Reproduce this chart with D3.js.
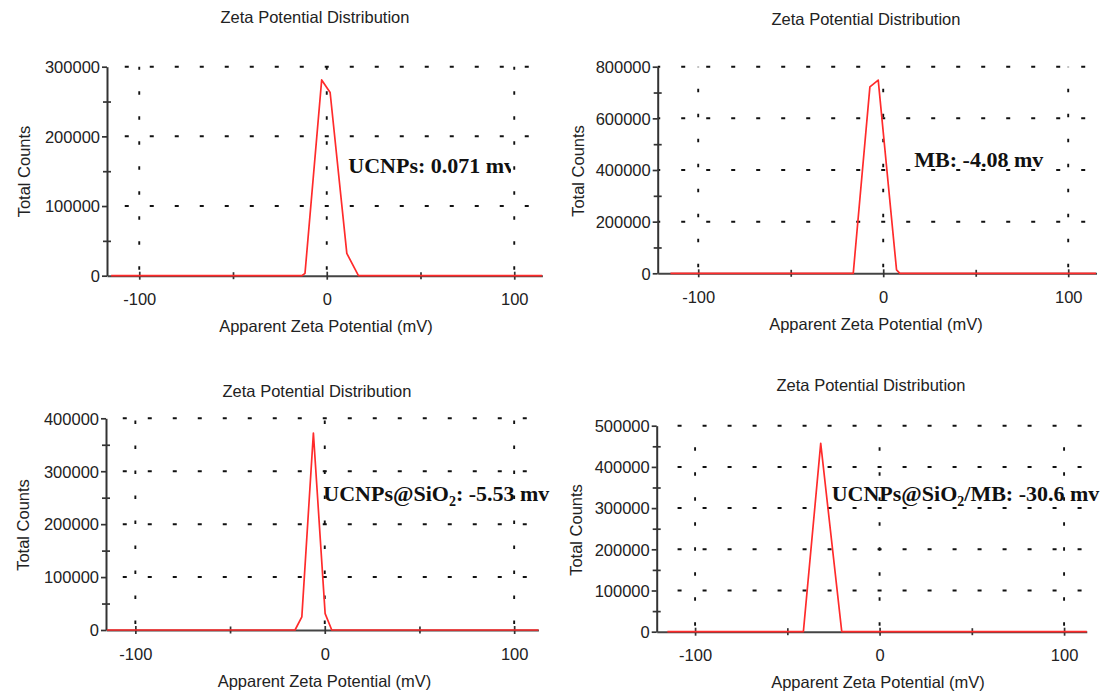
<!DOCTYPE html>
<html>
<head>
<meta charset="utf-8">
<script src="https://cdn.jsdelivr.net/npm/d3@7"></script>
<style>
  html, body { margin: 0; padding: 0; background: #fff; }
  svg { display: block; }
  text { font-family: "Liberation Sans", Arial, sans-serif; fill: #222; }
  .note { font-family: "Liberation Serif", "Times New Roman", serif; font-weight: bold; fill: #111; }
</style>
</head>
<body>
<svg id="chart" width="1105" height="695"></svg>
<script>
// Zeta potential distributions: apparent zeta potential (mV) vs total counts
const ucnpsMv      = [-115, -13.3, -11.6, -2.7, 1.8, 10.7, 16.9, 115];
const ucnpsCounts  = [0, 0, 3400, 281000, 263000, 32000, 0, 0];
const mbMv         = [-115, -16.2, -7.2, -2.7, 7.2, 9.0, 115];
const mbCounts     = [0, 0, 722000, 748000, 13000, 0, 0];
const silicaMv     = [-115, -15.7, -12.1, -6.0, 0.2, 3.7, 115];
const silicaCounts = [0, 0, 25000, 372000, 31000, 0, 0];
const loadedMv     = [-115, -41.3, -31.9, -20.5, 115];
const loadedCounts = [0, 0, 457000, 0, 0];

const sampleNames    = ["UCNPs", "MB", "UCNPs@SiO2", "UCNPs@SiO2/MB"];
const zetaValues     = ["0.071", "-4.08", "-5.53", "-30.6"];
const countMax       = [300000, 800000, 400000, 500000];
const countLabelStep = [100000, 200000, 100000, 100000];
const countMinorStep = [50000, 100000, 50000, 50000];
const potentialTicks      = [-100, 0, 100];
const potentialMinorTicks = [-50, 50];

const chartTitle = "Zeta Potential Distribution";
const yAxisTitle = "Total Counts";
const xAxisTitle = "Apparent Zeta Potential (mV)";

const seriesMv     = [ucnpsMv, mbMv, silicaMv, loadedMv];
const seriesCounts = [ucnpsCounts, mbCounts, silicaCounts, loadedCounts];

// Panel placement on the page
const layout = [
  { left: 107,   xMin: -117.2, xMax: 115,   base: 275.7, top: 66.7,  titleX: 315, titleY: 23,  yLabX: 29.5,  yLabY: 171.5, xLabX: 326,   noteX: 348.3, noteY: 173, noteClip: 511 },
  { left: 657.7, xMin: -121.9, xMax: 115.3, base: 273.3, top: 66.7,  titleX: 866, titleY: 24.5, yLabX: 583.5, yLabY: 171, xLabX: 876,   noteX: 914.3, noteY: 167 },
  { left: 106,   xMin: -115.5, xMax: 112.8, base: 630,   top: 418.3, titleX: 317, titleY: 397, yLabX: 28.5,  yLabY: 525,   xLabX: 324.5, noteX: 323.3, noteY: 501 },
  { left: 656.7, xMin: -120.8, xMax: 112.3, base: 631.7, top: 425.7, titleX: 871, titleY: 391, yLabX: 582,   yLabY: 530,   xLabX: 878,   noteX: 831.7, noteY: 501 }
];
const pxPerMv = [1.875, 1.85, 1.894, 1.845];

// plain hyphen-minus for negative tick values
const plainNumber = d => String(d);

const svg = d3.select("#chart");
const defs = svg.append("defs");

layout.forEach((L, i) => {
  const right = L.left + (L.xMax - L.xMin) * pxPerMv[i];
  const x = d3.scaleLinear().domain([L.xMin, L.xMax]).range([L.left, right]);
  const y = d3.scaleLinear().domain([0, countMax[i]]).range([L.base, L.top]);
  const g = svg.append("g");

  const labelTicks = d3.range(0, countMax[i] + 1, countLabelStep[i]);
  const minorTicks = d3.range(0, countMax[i] + 1, countMinorStep[i]).filter(v => v % countLabelStep[i] !== 0);

  // dotted grid
  const x0 = x(0);
  labelTicks.filter(v => v > 0).forEach(v => {
    const off = (((L.left - (x0 - 2)) % 25) + 25) % 25;
    g.append("line")
      .attr("x1", L.left).attr("x2", right - 4)
      .attr("y1", y(v)).attr("y2", y(v))
      .attr("stroke", "#111").attr("stroke-width", 2)
      .attr("stroke-dasharray", "4 21")
      .attr("stroke-dashoffset", off);
  });
  potentialTicks.forEach(v => {
    g.append("line")
      .attr("x1", x(v)).attr("x2", x(v))
      .attr("y1", y(0)).attr("y2", y(countMax[i]))
      .attr("stroke", "#111").attr("stroke-width", 1.9)
      .attr("stroke-dasharray", "3.5 21.5")
      .attr("stroke-dashoffset", 19);
  });

  // y axis (labelled ticks + minor cross ticks)
  const yAxis = g.append("g")
    .attr("transform", `translate(${L.left},0)`)
    .call(d3.axisLeft(y).tickValues(labelTicks).tickFormat(plainNumber).tickSizeInner(5).tickSizeOuter(0));
  yAxis.select(".domain").attr("stroke", "#333").attr("stroke-width", 2);
  yAxis.selectAll(".tick line").attr("stroke", "#333").attr("stroke-width", 1.7);
  yAxis.selectAll(".tick text")
    .attr("x", -7).attr("dy", "0.35em")
    .style("font-size", "16.5px").style("fill", "#222");
  const yMinor = g.append("g")
    .attr("transform", `translate(${L.left},0)`)
    .call(d3.axisLeft(y).tickValues(minorTicks).tickFormat("").tickSizeInner(4).tickSizeOuter(0));
  yMinor.select(".domain").remove();
  yMinor.selectAll(".tick line").attr("x1", 4).attr("stroke", "#333").attr("stroke-width", 1.7);

  // x axis
  const xAxis = g.append("g")
    .attr("transform", `translate(0,${L.base})`)
    .call(d3.axisBottom(x).tickValues(potentialTicks).tickFormat(plainNumber).tickSizeInner(4).tickSizeOuter(0));
  xAxis.select(".domain").attr("stroke", "#444").attr("stroke-width", 2);
  xAxis.selectAll(".tick line").attr("y1", -4).attr("stroke", "#333").attr("stroke-width", 1.7);
  xAxis.selectAll(".tick text")
    .attr("y", 29.5).attr("dy", null)
    .style("font-size", "16.5px").style("fill", "#222");
  const xMinor = g.append("g")
    .attr("transform", `translate(0,${L.base})`)
    .call(d3.axisBottom(x).tickValues(potentialMinorTicks).tickFormat("").tickSizeInner(3.5).tickSizeOuter(0));
  xMinor.select(".domain").remove();
  xMinor.selectAll(".tick line").attr("y1", -3.5).attr("stroke", "#333").attr("stroke-width", 1.7);

  // distribution curve
  const clipId = "plot-clip-" + i;
  defs.append("clipPath").attr("id", clipId)
    .append("rect")
    .attr("x", L.left).attr("y", L.top - 10)
    .attr("width", right - L.left).attr("height", L.base - L.top + 20);
  const pts = seriesMv[i].map((v, k) => [v, seriesCounts[i][k]]);
  g.append("path")
    .datum(pts)
    .attr("clip-path", `url(#${clipId})`)
    .attr("fill", "none")
    .attr("stroke", "#ff2b2b")
    .attr("stroke-width", 1.7)
    .attr("stroke-linejoin", "round")
    .attr("d", d3.line().x(d => x(d[0])).y(d => y(d[1])));

  // titles
  g.append("text")
    .attr("x", L.titleX).attr("y", L.titleY)
    .attr("text-anchor", "middle")
    .style("font-size", "16.5px")
    .text(chartTitle);
  g.append("text")
    .attr("transform", `translate(${L.yLabX},${L.yLabY}) rotate(-90)`)
    .attr("text-anchor", "middle")
    .style("font-size", "16.5px")
    .text(yAxisTitle);
  g.append("text")
    .attr("x", L.xLabX).attr("y", L.base + 56.5)
    .attr("text-anchor", "middle")
    .style("font-size", "16.5px")
    .text(xAxisTitle);

  // zeta potential annotation with SiO2 subscript
  const note = g.append("text")
    .attr("class", "note")
    .attr("x", L.noteX).attr("y", L.noteY)
    .style("font-size", "22px");
  if (L.noteClip) {
    const nId = "note-clip-" + i;
    defs.append("clipPath").attr("id", nId)
      .append("rect").attr("x", L.noteX - 5).attr("y", L.noteY - 30)
      .attr("width", L.noteClip - L.noteX + 5).attr("height", 45);
    note.attr("clip-path", `url(#${nId})`);
  }
  const name = sampleNames[i];
  const parts = name.split("SiO2");
  if (parts.length > 1) {
    note.append("tspan").text(parts[0] + "SiO");
    note.append("tspan").attr("dy", 5).style("font-size", "14px").text("2");
    note.append("tspan").attr("dy", -5).text(parts[1] + ": " + zetaValues[i] + " mv");
  } else {
    note.append("tspan").text(name + ": " + zetaValues[i] + " mv");
  }
});
</script>
</body>
</html>
